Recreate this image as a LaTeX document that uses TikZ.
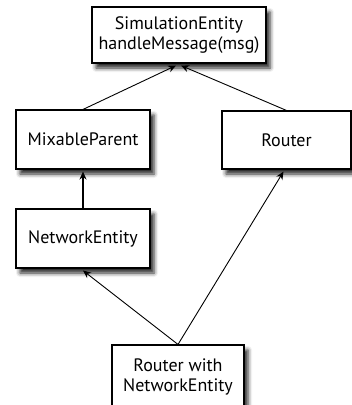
\documentclass[tikz,border=0pt]{standalone}
\usepackage{fontspec}
\setmainfont{PT Sans}
\usetikzlibrary{arrows.meta,shadows.blur}

\begin{document}
\begin{tikzpicture}[x=1pt,y=-1pt,
    cls/.style={draw,line width=1.1pt,fill=white,align=center,
      font=\fontsize{18}{20}\selectfont,inner sep=0pt,
      blur shadow={shadow xshift=4pt,shadow yshift=-5pt,shadow blur radius=4pt,shadow opacity=85}},
    inh/.style={line width=0.9pt,-{Stealth[length=8pt,width=7pt]}}]
  \useasboundingbox(0,0)rectangle(352,405);
  \node[cls,minimum width=174pt,minimum height=56pt](sim)at(179,35){SimulationEntity\\handleMessage(msg)};
  \node[cls,minimum width=134pt,minimum height=59pt](mix)at(83,139.5){MixableParent};
  \node[cls,minimum width=129pt,minimum height=58pt](rout)at(286.5,140){Router};
  \node[cls,minimum width=134pt,minimum height=59pt](net)at(83,238.5){NetworkEntity};
  \node[cls,minimum width=132pt,minimum height=64pt](rnet)at(178,377){Router with\\NetworkEntity};
  \draw[inh](mix.north)--([xshift=-3pt,yshift=-2pt]sim.south);
  \draw[inh](rout.north)--([xshift=2pt,yshift=-2pt]sim.south);
  \draw[inh,line width=1.6pt](net.north)--([yshift=-2pt]mix.south);
  \draw[inh](rnet.north)--([yshift=-2pt]net.south);
  \draw[inh](rnet.north)--([xshift=-3pt,yshift=-2pt]rout.south);
\end{tikzpicture}
\end{document}
